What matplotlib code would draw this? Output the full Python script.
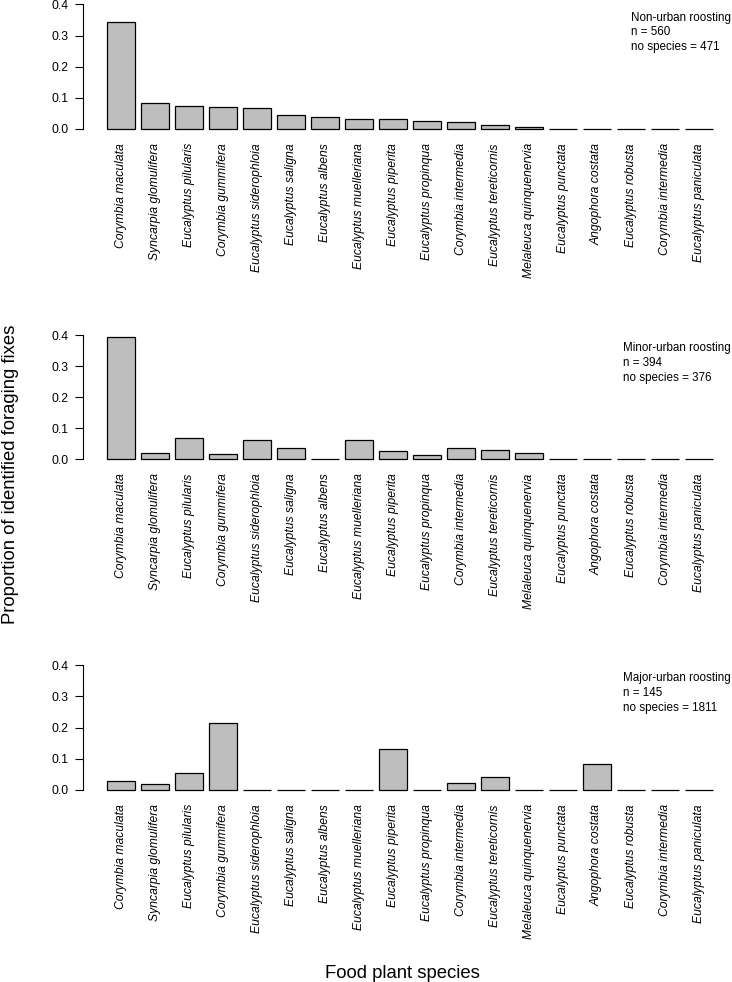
import numpy as np
import matplotlib
matplotlib.use("Agg")
import matplotlib.pyplot as plt

plt.rcParams['font.family'] = ['Liberation Sans', 'DejaVu Sans']

# Food plant species (same order in every panel)
species = ['Corymbia maculata', 'Syncarpia glomulifera', 'Eucalyptus pilularis',
           'Corymbia gummifera', 'Eucalyptus siderophloia', 'Eucalyptus saligna',
           'Eucalyptus albens', 'Eucalyptus muelleriana', 'Eucalyptus piperita',
           'Eucalyptus propinqua', 'Corymbia intermedia', 'Eucalyptus tereticornis',
           'Melaleuca quinquenervia', 'Eucalyptus punctata', 'Angophora costata',
           'Eucalyptus robusta', 'Corymbia intermedia', 'Eucalyptus paniculata']

# proportion of identified foraging fixes
non_urban = [0.345, 0.083, 0.075, 0.070, 0.066, 0.045, 0.037, 0.032, 0.032,
             0.025, 0.024, 0.014, 0.007, 0, 0, 0, 0, 0]
minor_urban = [0.392, 0.019, 0.068, 0.016, 0.061, 0.036, 0, 0.063, 0.026,
               0.013, 0.037, 0.030, 0.019, 0, 0, 0, 0, 0]
major_urban = [0.028, 0.020, 0.055, 0.214, 0, 0, 0, 0, 0.131,
               0, 0.021, 0.042, 0, 0, 0.082, 0, 0, 0]

panel_titles = ['Non-urban roosting', 'Minor-urban roosting', 'Major-urban roosting']
panel_n = [560, 394, 145]
panel_nospecies = [471, 376, 1811]
yticks = [0.0, 0.1, 0.2, 0.3, 0.4]

W, H = 732, 982
fig = plt.figure(figsize=(W / 100, H / 100), dpi=100)

# pixel rows of the 0.0 and 0.4 ticks for each panel
zero_px = [129, 459.3, 790]
top_px = [4.5, 335, 665]
left_px, right_px = 82.8, 737.2

ypad = 0.016
x = np.arange(len(species)) * 1.2 + 0.7

for i, vals in enumerate([non_urban, minor_urban, major_urban]):
    span = zero_px[i] - top_px[i]
    s = span / 0.4
    bottom = 1 - (zero_px[i] + ypad * s) / H
    height = (span + 2 * ypad * s) / H
    ax = fig.add_axes([left_px / W, bottom, (right_px - left_px) / W, height])

    ax.bar(x, vals, width=1.0, color='#BEBEBE', edgecolor='black', linewidth=0.9)

    ax.set_xlim(-0.656, 22.456)
    ax.set_ylim(-ypad, 0.4 + ypad)

    for sp in ['top', 'right', 'bottom']:
        ax.spines[sp].set_visible(False)
    ax.spines['left'].set_bounds(0, 0.4)
    ax.spines['left'].set_linewidth(0.8)

    ax.set_yticks(yticks)
    ax.set_yticklabels(['%.1f' % v for v in yticks], fontsize=8.7)
    ax.tick_params(axis='y', length=5.5, width=0.8, pad=4.8)

    ax.set_xticks(x)
    ax.set_xticklabels(species, rotation=90, fontsize=8.7, fontstyle='italic')
    ax.tick_params(axis='x', length=0, pad=6.5)

    # legend-like note in the top right corner
    txt = '%s\nn = %d\nno species = %d' % (panel_titles[i], panel_n[i], panel_nospecies[i])
    ax.text((731 - left_px) / (right_px - left_px), 0.4 - 7 / s, txt,
            transform=ax.get_yaxis_transform(), ha='right', va='top',
            multialignment='left', fontsize=8.4, linespacing=1.32)

fig.text(11 / W, 1 - 474 / H, 'Proportion of identified foraging fixes',
         rotation=90, ha='center', va='center', fontsize=13.3)
fig.text(402 / W, 1 - 978 / H, 'Food plant species',
         ha='center', va='baseline', fontsize=13.3)

fig.savefig('out.png', dpi=100)
